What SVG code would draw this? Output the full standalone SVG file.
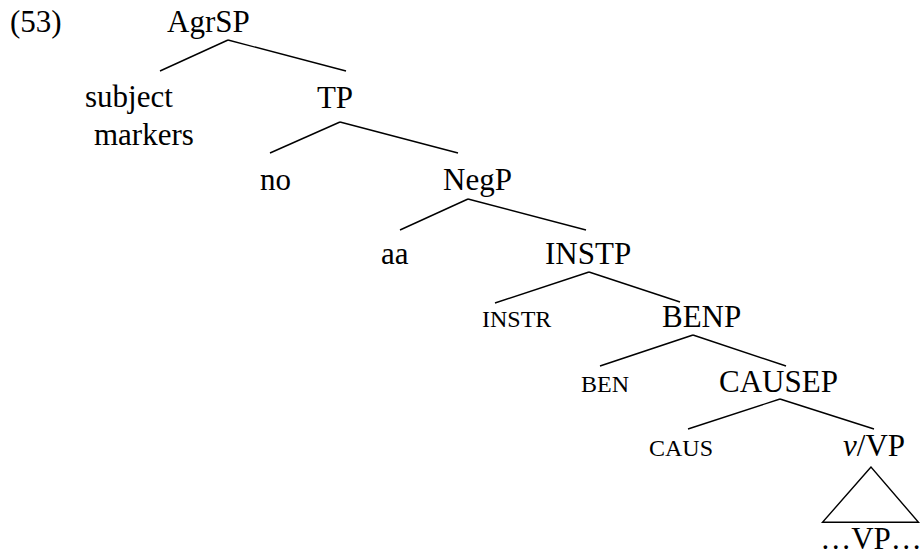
<svg xmlns="http://www.w3.org/2000/svg" width="921" height="556" viewBox="0 0 921 556">
<style>
.e line,.e polygon{stroke:#000;stroke-width:1.4;fill:none}
</style>
<rect width="921" height="556" fill="#fff"/>
<g font-family="'Liberation Serif', Tinos, Times, 'DejaVu Serif', serif" font-size="31" fill="#000">
<text x="10" y="32">(53)</text>
<g id="edges" class="e">
<line x1="228" y1="40" x2="160" y2="71"/>
<line x1="228" y1="40" x2="346" y2="71"/>
<line x1="340" y1="122" x2="270" y2="153"/>
<line x1="340" y1="122" x2="458" y2="153"/>
<line x1="468" y1="199" x2="400" y2="230"/>
<line x1="468" y1="199" x2="586" y2="230"/>
<line x1="589" y1="272" x2="495" y2="303"/>
<line x1="589" y1="272" x2="680" y2="302"/>
<line x1="693" y1="335" x2="600" y2="366"/>
<line x1="693" y1="335" x2="786" y2="366"/>
<line x1="780" y1="399" x2="688" y2="429"/>
<line x1="780" y1="399" x2="874" y2="429"/>
<polygon points="871,467 822.5,522.3 918.5,522.3"/>
</g>
<g id="n-agrsp"><text x="167" y="32">AgrSP</text></g>
<g id="n-subj"><text x="85" y="107">subject</text><text x="94" y="145">markers</text></g>
<g id="n-tp"><text x="335" y="108" text-anchor="middle">TP</text></g>
<g id="n-no"><text x="260" y="190">no</text></g>
<g id="n-negp"><text x="443" y="190">NegP</text></g>
<g id="n-aa"><text x="381" y="264">aa</text></g>
<g id="n-instp"><text x="545" y="264">INSTP</text></g>
<g id="n-instr"><text font-size="24" x="482" y="327">INSTR</text></g>
<g id="n-benp"><text x="662" y="327">BENP</text></g>
<g id="n-ben"><text font-size="24" x="581" y="392">BEN</text></g>
<g id="n-causep"><text x="719" y="392">CAUSEP</text></g>
<g id="n-caus"><text font-size="24" x="649" y="456">CAUS</text></g>
<g id="n-vp"><text x="843" y="456"><tspan font-style="italic">v</tspan>/VP</text></g>
<g id="n-vpbottom"><text x="871" y="549" text-anchor="middle">…VP…</text></g>
</g>
</svg>
